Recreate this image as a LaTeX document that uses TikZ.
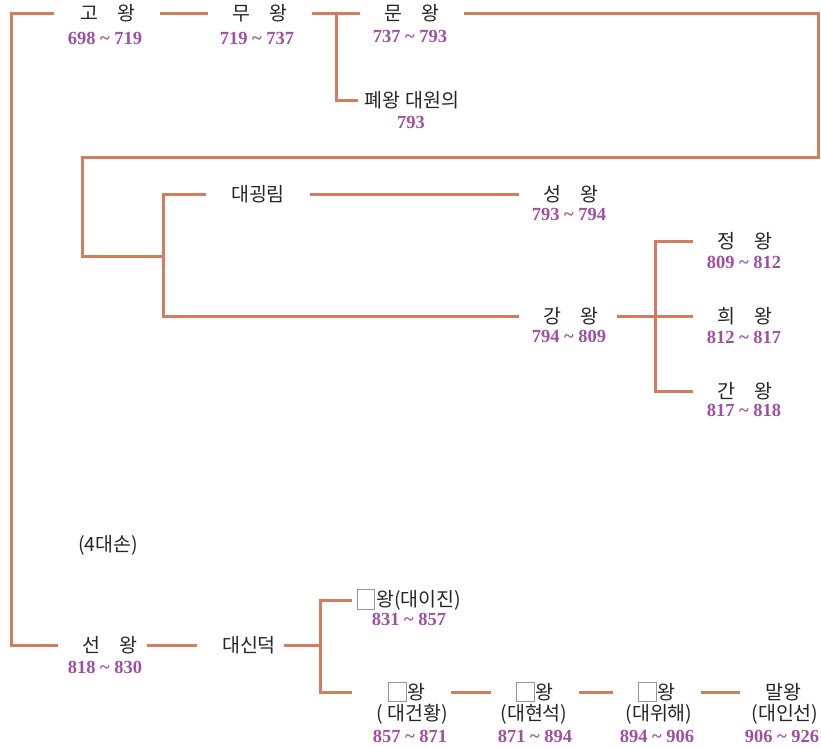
\documentclass[tikz,border=0pt]{standalone}
\usepackage{fontspec}
\usetikzlibrary{calc}
\newfontfamily\kr{Noto Sans CJK KR}
\newfontfamily\yr{Liberation Serif}
\definecolor{linec}{RGB}{210,125,95}
\definecolor{yearc}{RGB}{160,80,162}
\definecolor{boxc}{RGB}{150,150,150}
\newcommand{\kgap}{\hspace{0.95em}}
\newcommand{\sq}{{\color{boxc}\setlength{\fboxsep}{0pt}\setlength{\fboxrule}{0.8pt}\fbox{\rule[-0.1em]{0pt}{0.95em}\hspace{0.85em}}}\hspace{0.05em}}
\tikzset{
  kname/.style={font=\kr\fontsize{19.5}{21}\selectfont, text=black!85, inner sep=0pt, outer xsep=25pt, outer ysep=0pt, anchor=center},
  kyear/.style={font=\yr\bfseries\fontsize{18.5}{20}\selectfont, text=yearc, inner sep=0pt, anchor=center},
  kline/.style={draw=linec, line width=3pt}
}
\begin{document}
\begin{tikzpicture}[x=1pt,y=-1pt]
\useasboundingbox (0,0) rectangle (821,747);
% top row
\node[kname] (gowang) at (108,13) {고\kgap 왕};
\node[kyear] (gowangy) at (105,38) {698 \textasciitilde{} 719};
\node[kname] (muwang) at (260,13) {무\kgap 왕};
\node[kyear] (muwangy) at (257,38) {719 \textasciitilde{} 737};
\node[kname] (munwang) at (412,13) {문\kgap 왕};
\node[kyear] (munwangy) at (410,36) {737 \textasciitilde{} 793};
\node[kname, outer xsep=7pt] (pye) at (412,100) {폐왕 대원의};
\node[kyear] (pyey) at (411,122) {793};
% middle
\node[kname] (daegoeng) at (258,194) {대굉림};
\node[kname] (seong) at (571,194) {성\kgap 왕};
\node[kyear] (seongy) at (569,214) {793 \textasciitilde{} 794};
\node[kname] (gang) at (571,316) {강\kgap 왕};
\node[kyear] (gangy) at (569,336) {794 \textasciitilde{} 809};
\node[kname] (jeong) at (745,241) {정\kgap 왕};
\node[kyear] (jeongy) at (744,262) {809 \textasciitilde{} 812};
\node[kname] (hui) at (745,316) {희\kgap 왕};
\node[kyear] (huiy) at (744,337) {812 \textasciitilde{} 817};
\node[kname] (gan) at (745,391) {간\kgap 왕};
\node[kyear] (gany) at (744,410) {817 \textasciitilde{} 818};
% bottom
\node[kname] (sadaeson) at (108,545) {(4대손)};
\node[kname] (seon) at (110,645) {선\kgap 왕};
\node[kyear] (seony) at (105,667) {818 \textasciitilde{} 830};
\node[kname] (sindeok) at (249,645) {대신덕};
\node[kname, outer xsep=5pt] (ijin) at (409,600) {\sq 왕(대이진)};
\node[kyear] (ijiny) at (409,619) {831 \textasciitilde{} 857};
\node[kname] (b1) at (407,692) {\sq 왕};
\node[kname] (b1n) at (412,714) {( 대건황)};
\node[kyear] (b1y) at (410,736) {857 \textasciitilde{} 871};
\node[kname] (b2) at (535,692) {\sq 왕};
\node[kname] (b2n) at (534,714) {(대현석)};
\node[kyear] (b2y) at (535,736) {871 \textasciitilde{} 894};
\node[kname] (b3) at (657,692) {\sq 왕};
\node[kname] (b3n) at (659,714) {(대위해)};
\node[kyear] (b3y) at (657,736) {894 \textasciitilde{} 906};
\node[kname] (b4) at (783,692) {말왕};
\node[kname] (b4n) at (785,714) {(대인선)};
\node[kyear] (b4y) at (782,736) {906 \textasciitilde{} 926};
% junction coordinates
\coordinate (rc) at (818,157);
\coordinate (lc) at (82,256);
\coordinate (fj) at (163,256);
\coordinate (gj) at (655,316);
\coordinate (sj) at (320,645);
% connectors
\draw[kline] ([xshift=-2pt]gowang.west) -- ++(-42,0) |- (seon.west);
\draw[kline] (gowang.east) -- (muwang.west);
\draw[kline] (muwang.east) -- (munwang.west);
\draw[kline] ($(muwang.east)!0.5!(munwang.west)$) |- (pye.west);
\draw[kline] (munwang.east) -| (rc) -| (lc) -- (fj);
\draw[kline] (daegoeng.west) -| (fj);
\draw[kline] (gang.west) -| (fj);
\draw[kline] (daegoeng.east) -- (seong.west);
\draw[kline] ([xshift=-6pt]gang.east) -- (hui.west);
\draw[kline] (jeong.west) -| (gj);
\draw[kline] (gan.west) -| (gj);
\draw[kline] ([xshift=-15pt]seon.east) -- (sindeok.west);
\draw[kline] ([xshift=-17pt]sindeok.east) -- (sj);
\draw[kline] (ijin.west) -| (sj);
\draw[kline] ([xshift=-11pt]b1.west) -| (sj);
\draw[kline] (b1.east) -- (b2.west);
\draw[kline] (b2.east) -- (b3.west);
\draw[kline] (b3.east) -- (b4.west);
\end{tikzpicture}
\end{document}
